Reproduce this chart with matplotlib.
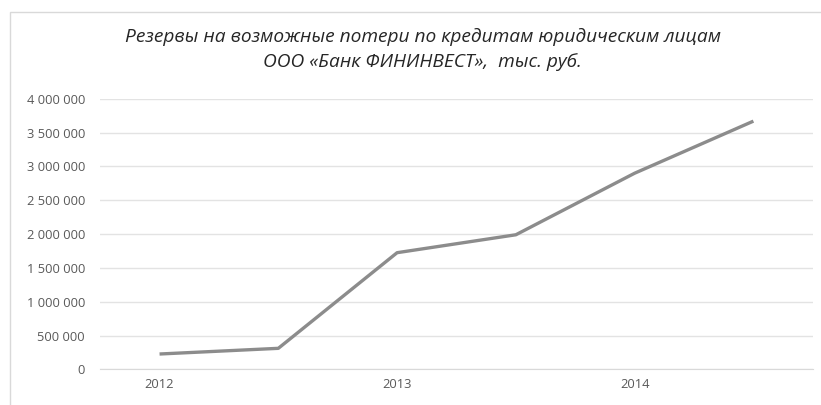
import matplotlib.pyplot as plt
from matplotlib.patches import Rectangle
from matplotlib.ticker import FuncFormatter

# Reserves for corporate loans, thousand rubles
periods = ["2012", "", "2013", "", "2014", ""]
reserves = [227000, 311000, 1725000, 1990000, 2900000, 3670000]
y_ticks = [0, 500000, 1000000, 1500000, 2000000, 2500000, 3000000, 3500000, 4000000]

title = ("Резервы на возможные потери по кредитам юридическим лицам\n"
         "ООО «Банк ФИНИНВЕСТ»,  тыс. руб.")

plt.rcParams['font.family'] = ['Open Sans', 'DejaVu Sans']

fig = plt.figure(figsize=(8.21, 4.05), dpi=100)
ax = fig.add_axes([0.122, 0.088, 0.868, 0.668])

x = list(range(len(periods)))
ax.plot(x, reserves, color='#8c8c8c', linewidth=2.4, solid_capstyle='butt')

ax.set_xlim(-0.5, len(periods) - 0.5)
ax.set_ylim(0, 4000000)
ax.set_yticks(y_ticks)
ax.yaxis.set_major_formatter(FuncFormatter(lambda v, p: f"{int(v):,}".replace(",", " ")))
ax.set_xticks(x)
ax.set_xticklabels(periods)

ax.grid(axis='y', color='#e3e3e3', linewidth=1.0)
ax.set_axisbelow(True)
for s in ['top', 'right', 'left']:
    ax.spines[s].set_visible(False)
ax.spines['bottom'].set_color('#d9d9d9')
ax.tick_params(axis='both', length=0, labelsize=9.3, colors='#595959')
ax.tick_params(axis='y', pad=11)
ax.tick_params(axis='x', pad=6)

fig.text(0.515, 0.878, title, ha='center', va='center', fontsize=13.8,
         style='italic', color='#262626', linespacing=1.45)

# light frame around the chart
fig.patches.append(Rectangle((10 / 821, -0.01), 1.0, 0.99 - 8 / 405 + 0.01,
                             transform=fig.transFigure, fill=False,
                             edgecolor='#d9d9d9', linewidth=1.0))

fig.savefig("out.png", dpi=100)
